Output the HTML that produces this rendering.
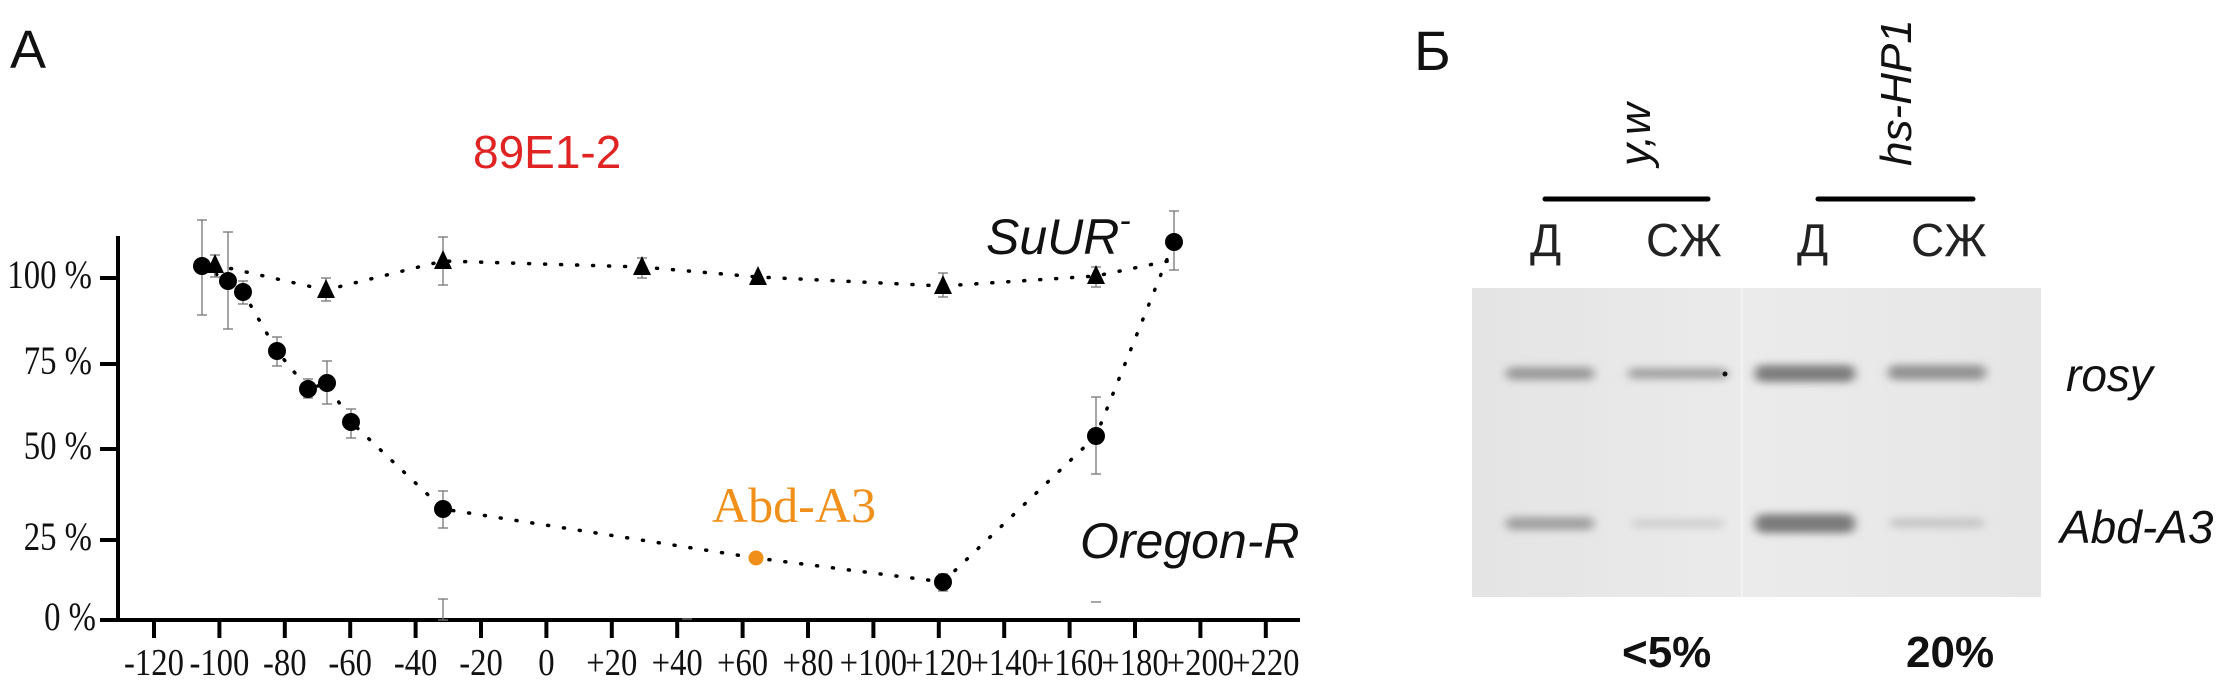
<!DOCTYPE html>
<html><head><meta charset="utf-8"><style>
html,body{margin:0;padding:0;background:#fff;}
svg{display:block;}
.ser{font-family:"Liberation Serif",serif;}
.san{font-family:"Liberation Sans",sans-serif;}
</style></head><body>
<svg width="2227" height="689" viewBox="0 0 2227 689" xmlns="http://www.w3.org/2000/svg">
<defs>
<filter id="bl" x="-20%" y="-100%" width="140%" height="300%"><feGaussianBlur stdDeviation="5 4"/></filter>
<linearGradient id="gg" x1="0" x2="1" y1="0" y2="0"><stop offset="0" stop-color="#e4e4e4"/><stop offset="0.5" stop-color="#ebebeb"/><stop offset="1" stop-color="#e6e6e6"/></linearGradient>
</defs>
<text x="10" y="68" class="san" font-size="54" fill="#111">A</text>
<text x="473" y="168" class="san" font-size="46" fill="#e02424">89E1-2</text>
<!-- axes -->
<g stroke="#000" stroke-width="4">
<line x1="118" y1="236" x2="118" y2="622"/>
<line x1="116" y1="620" x2="1300" y2="620"/>
<line x1="100" y1="278" x2="118" y2="278"/>
<line x1="100" y1="364" x2="118" y2="364"/>
<line x1="100" y1="449" x2="118" y2="449"/>
<line x1="100" y1="540" x2="118" y2="540"/>
<line x1="100" y1="620" x2="118" y2="620"/>
</g>
<g stroke="#000" stroke-width="4" id="xt"></g>
<g class="ser" font-size="40" fill="#111" text-anchor="end">
<text transform="translate(92,288) scale(0.82,1)">100 %</text>
<text transform="translate(92,374) scale(0.82,1)">75 %</text>
<text transform="translate(92,459) scale(0.82,1)">50 %</text>
<text transform="translate(92,550) scale(0.82,1)">25 %</text>
<text transform="translate(96,630) scale(0.82,1)">0 %</text>
</g>
<g id="xl" class="ser" font-size="38" fill="#111" text-anchor="middle"></g>
<!-- dotted lines -->
<polyline fill="none" stroke="#000" stroke-width="3.5" stroke-dasharray="1 15" stroke-linecap="round"
 points="202,266 228,281 243,292 277,351 308,389 327,383 351,422 443,509 756,558 943,582 1096,436 1174,242"/>
<polyline fill="none" stroke="#000" stroke-width="3.5" stroke-dasharray="1 15" stroke-linecap="round"
 points="215,265 326,290 443,261 642,267 758,277 943,286 1096,276 1168,261"/>
<!-- error bars -->
<g stroke="#777" stroke-width="1.3" fill="none" id="eb"></g>
<!-- markers -->
<g fill="#000">
<circle cx="202" cy="266" r="9"/><circle cx="228" cy="281" r="9"/><circle cx="243" cy="292" r="9"/>
<circle cx="277" cy="351" r="9"/><circle cx="308" cy="389" r="9"/><circle cx="327" cy="383" r="9"/>
<circle cx="351" cy="422" r="9"/><circle cx="443" cy="509" r="9"/><circle cx="943" cy="582" r="9"/>
<circle cx="1096" cy="436" r="9"/><circle cx="1174" cy="242" r="9"/>
<circle cx="756" cy="558" r="7.5" fill="#f0901a"/>
</g>
<g fill="#000" id="tri"></g>
<text x="986" y="254" class="san" font-size="50" font-style="italic" fill="#111">SuUR<tspan font-size="34" dy="-22">-</tspan></text>
<text x="1080" y="558" class="san" font-size="50" font-style="italic" fill="#111">Oregon-R</text>
<text x="712" y="522" class="ser" font-size="50" fill="#f0901a" textLength="164" lengthAdjust="spacingAndGlyphs">Abd-A3</text>

<!-- panel B -->
<text x="1414" y="70" class="san" font-size="56" fill="#111">Б</text>
<text transform="translate(1650,166) rotate(-90)" class="san" font-size="44" font-style="italic" fill="#111">y,w</text>
<text transform="translate(1911,166) rotate(-90)" class="san" font-size="44" font-style="italic" fill="#111">hs-HP1</text>
<line x1="1545" y1="199" x2="1708" y2="199" stroke="#000" stroke-width="5" stroke-linecap="round"/>
<line x1="1818" y1="199" x2="1973" y2="199" stroke="#000" stroke-width="5" stroke-linecap="round"/>
<g class="san" font-size="46" fill="#222">
<text x="1530" y="256">Д</text><text x="1646" y="256">СЖ</text>
<text x="1797" y="256">Д</text><text x="1911" y="256">СЖ</text>
</g>
<rect x="1472" y="288" width="569" height="309" fill="url(#gg)"/>
<rect x="1741" y="288" width="2" height="309" fill="#f2f2f2"/>
<g filter="url(#bl)">
<rect x="1506" y="367" width="88" height="13" rx="6" fill="#9a9a9a"/>
<rect x="1628" y="368" width="100" height="11" rx="6" fill="#a2a2a2"/>
<rect x="1755" y="365" width="100" height="17" rx="7" fill="#7e7e7e"/>
<rect x="1888" y="365" width="98" height="15" rx="7" fill="#939393"/>
<rect x="1506" y="517" width="88" height="13" rx="6" fill="#a0a0a0"/>
<rect x="1632" y="519" width="92" height="9" rx="5" fill="#cfcfcf"/>
<rect x="1755" y="514" width="100" height="19" rx="8" fill="#7c7c7c"/>
<rect x="1890" y="518" width="94" height="10" rx="5" fill="#c6c6c6"/>
</g>
<circle cx="1725" cy="374" r="2.5" fill="#111"/>
<text x="2066" y="391" class="san" font-size="46" font-style="italic" fill="#111">rosy</text>
<text x="2060" y="543" class="san" font-size="46" font-style="italic" fill="#111">Abd-A3</text>
<text x="1622" y="667" class="san" font-size="44" font-weight="bold" fill="#111">&lt;5%</text>
<text x="1906" y="667" class="san" font-size="44" font-weight="bold" fill="#111">20%</text>
</svg>
<script>
var ns="http://www.w3.org/2000/svg";
function el(p,t,a,txt){var e=document.createElementNS(ns,t);for(var k in a)e.setAttribute(k,a[k]);if(txt!=null)e.textContent=txt;p.appendChild(e);return e;}
var xt=document.getElementById('xt'),xl=document.getElementById('xl');
for(var i=0;i<18;i++){var v=-120+20*i,x=154+65.4*i;
el(xt,'line',{x1:x,y1:620,x2:x,y2:638});
el(xl,'text',{transform:'translate('+x+',675) scale(0.86,1)'},v<0?'-'+(-v):(v==0?'0':'+'+v));}
var eb=document.getElementById('eb');
[[202,220,315],[228,232,329],[243,281,304],[277,337,366],[308,379,398],[327,361,404],[351,409,438],[443,491,528],[443,599,620],[943,574,591],[1096,397,474],[1174,211,270],
[215,255,277],[326,278,301],[443,237,285],[642,258,278],[943,273,297],[1096,267,287]].forEach(function(b){
el(eb,'line',{x1:b[0],y1:b[1],x2:b[0],y2:b[2]});
el(eb,'line',{x1:b[0]-5,y1:b[1],x2:b[0]+5,y2:b[1]});
el(eb,'line',{x1:b[0]-5,y1:b[2],x2:b[0]+5,y2:b[2]});});
el(eb,'line',{x1:1091,y1:602,x2:1101,y2:602});
el(eb,'line',{x1:682,y1:619,x2:692,y2:619});
var tr=document.getElementById('tri');
[[215,265],[326,290],[443,261],[642,267],[758,277],[943,286],[1096,276]].forEach(function(p){
el(tr,'polygon',{points:(p[0]-9)+','+(p[1]+8)+' '+(p[0]+9)+','+(p[1]+8)+' '+p[0]+','+(p[1]-11)});});
</script>
</body></html>
